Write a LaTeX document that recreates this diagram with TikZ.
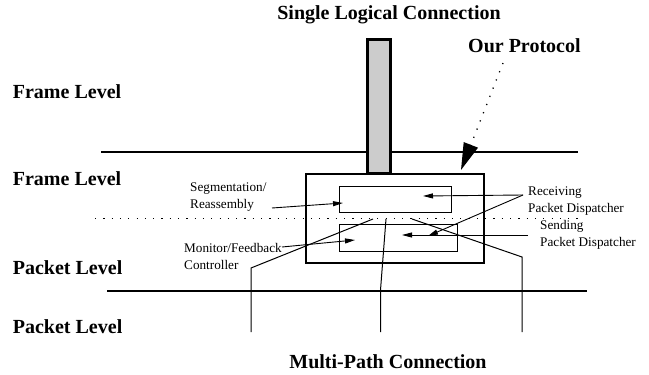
\documentclass[tikz,border=0pt]{standalone}
\usepackage{fontspec}
\setmainfont{Liberation Serif}
\usetikzlibrary{arrows.meta,calc}
\begin{document}
\begin{tikzpicture}[x=1pt,y=-1pt,
  level/.style={font=\fontsize{20}{24}\selectfont\bfseries, inner sep=0pt, anchor=base west},
  note/.style={font=\fontsize{13.2}{17}\selectfont, inner sep=0pt, anchor=base west, align=left},
  arr/.style={-{Triangle[length=10pt,width=5pt]}, line width=0.9pt},
  wire/.style={line width=1pt},
  rule/.style={line width=2pt},
  unit/.style={draw, line width=0.9pt, inner sep=0pt},
]
\useasboundingbox (0,0) rectangle (649,375);

% level labels and titles
\node[level, anchor=base] (single) at (389,19) {Single Logical Connection};
\node[level] (proto) at (468,52) {Our Protocol};
\node[level] (fl1) at (12.7,98) {Frame Level};
\node[level] (fl2) at (12.7,185) {Frame Level};
\node[level] (pl1) at (12.7,274) {Packet Level};
\node[level] (pl2) at (12.7,333) {Packet Level};
\node[level, anchor=base] (multi) at (388,368) {Multi-Path Connection};

% level boundaries
\draw[rule] (101,152) -- (578,152);
\draw[rule] (107,290.5) -- (587,290.5);
\draw[line width=1.4pt, dash pattern=on 1.2pt off 7.1pt] (95,218.5) -- (582,218.5);

% protocol block
\node[draw, line width=2.5pt, inner sep=0pt, minimum width=178pt, minimum height=89pt] (outer) at (395,218.5) {};
\node[unit, minimum width=112pt, minimum height=26pt] (top) at (395,199) {};
\node[unit, minimum width=118pt, minimum height=27pt] (bot) at (398,237.5) {};

% single logical connection
\node[draw, line width=3pt, fill=gray!40, inner sep=0pt, minimum width=23pt, minimum height=134pt] (bar) at (379,106.5) {};

% paths of the multi-path connection
\coordinate (pa) at (373,219);
\coordinate (pb) at (386,219);
\coordinate (pc) at (412,219);
\coordinate (pa1) at (251,268);
\coordinate (pa2) at (251,332);
\coordinate (pb1) at (380.5,290);
\coordinate (pb2) at (380.5,332);
\coordinate (pc1) at (522,257);
\coordinate (pc2) at (522,332);
\draw[wire] (pa) -- (pa1) -- (pa2);
\draw[wire] (pb) -- (pb1) -- (pb2);
\draw[wire] (pc) -- (pc1) -- (pc2);

% component labels (anchored on the baseline of their last line)
\node[note] (seg) at (190,208) {Segmentation/\\Reassembly};
\node[note] (mon) at (184,269) {Monitor/Feedback\\Controller};
\node[note] (rcv) at (528,212) {Receiving\\Packet Dispatcher};
\node[note] (snd) at (540,246) {Sending\\Packet Dispatcher};

\coordinate (segfrom) at (272,208);
\coordinate (segto) at (343,203);
\coordinate (monfrom) at (282,247);
\coordinate (monto) at (355,240);
\coordinate (rcvfrom) at (523,195);
\coordinate (rcvto) at (423,196);
\coordinate (rcvto2) at (428,236);
\coordinate (sndfrom) at (528,235);
\coordinate (sndto) at (402,235);
\draw[arr] (segfrom) -- (segto);
\draw[arr] (monfrom) -- (monto);
\draw[arr] (rcvfrom) -- (rcvto);
\draw[arr] (rcvfrom) -- (rcvto2);
\draw[arr] (sndfrom) -- (sndto);

% pointer to the protocol block
\coordinate (protofrom) at (503,63);
\coordinate (prototo) at (461,170);
\draw[line width=1.3pt, dash pattern=on 1.2pt off 7.6pt,
  -{Triangle[length=27pt,width=15pt]}] (protofrom) -- (prototo);
\end{tikzpicture}
\end{document}
